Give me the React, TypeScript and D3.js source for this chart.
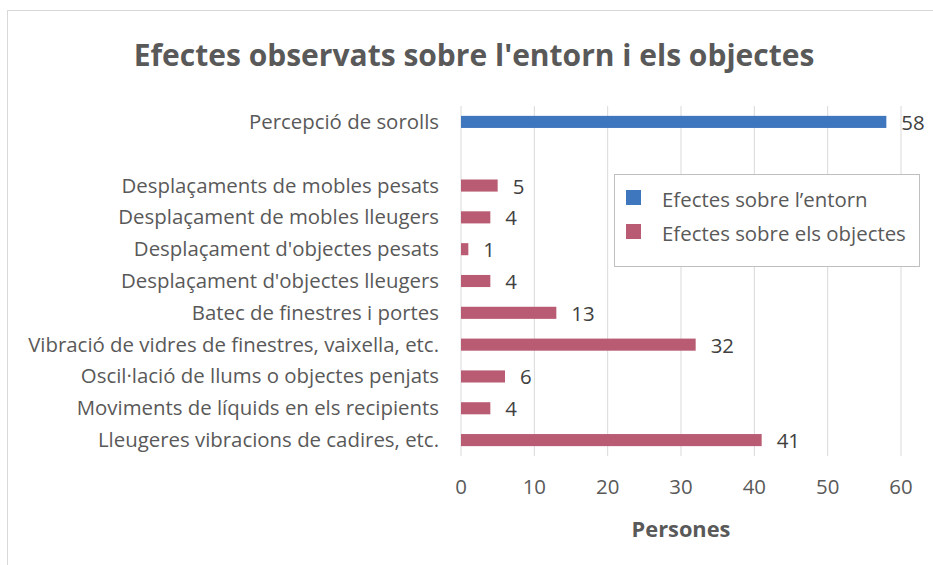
import React from "react";
import * as d3 from "d3";

const categories = [
  "Percepció de sorolls",
  "",
  "Desplaçaments de mobles pesats",
  "Desplaçament de mobles lleugers",
  "Desplaçament d'objectes pesats",
  "Desplaçament d'objectes lleugers",
  "Batec de finestres i portes",
  "Vibració de vidres de finestres, vaixella, etc.",
  "Oscil·lació de llums o objectes penjats",
  "Moviments de líquids en els recipients",
  "Lleugeres vibracions de cadires, etc.",
];
const seriesNames = ["Efectes sobre l’entorn", "Efectes sobre els objectes"];
const entornValues: (number | null)[] = [58, null, null, null, null, null, null, null, null, null, null];
const objectesValues: (number | null)[] = [null, null, 5, 4, 1, 4, 13, 32, 6, 4, 41];
const xTicks = [0, 10, 20, 30, 40, 50, 60];

const W = 933;
const H = 565;
const FONT = "'Open Sans', sans-serif";
const colors = ["#3F77BF", "#B95B72"];
const FS = 20.4;

export default function App() {
  const x = d3.scaleLinear().domain([0, 60]).range([461, 901]);
  const y = d3.scaleBand().domain(categories.map((c, i) => String(i))).range([106, 456]).paddingInner(0.62).paddingOuter(0.31);
  const bw = y.bandwidth();
  const series = [entornValues, objectesValues];
  return (
    <svg width={W} height={H} style={{ position: "absolute", left: 0, top: 0 }} fontFamily={FONT}>
      <rect x={0} y={0} width={W} height={H} fill="#fff" />
      <rect x={7.5} y={10.5} width={W} height={H} fill="none" stroke="#d9d9d9" />
      <text x={474} y={66} textAnchor="middle" fontSize={30} fontWeight="bold" fill="#595959">
        Efectes observats sobre l'entorn i els objectes
      </text>
      {xTicks.map((t) => (
        <g key={t}>
          <line x1={x(t)} x2={x(t)} y1={106} y2={456} stroke="#d9d9d9" strokeWidth={1} />
          <text x={x(t)} y={494} textAnchor="middle" fontSize={FS} fill="#595959">
            {t}
          </text>
        </g>
      ))}
      {categories.map((c, i) => (
        <text key={i} x={439} y={(y(String(i)) as number) + bw / 2 + 7} textAnchor="end" fontSize={FS} fill="#595959">
          {c}
        </text>
      ))}
      {series.map((vals, si) =>
        vals.map((v, i) =>
          v == null ? null : (
            <g key={si + "-" + i}>
              <rect x={x(0)} y={y(String(i)) as number} width={x(v) - x(0)} height={bw} fill={colors[si]} />
              <text x={x(v) + 15} y={(y(String(i)) as number) + bw / 2 + 8} fontSize={FS} fill="#404040">
                {v}
              </text>
            </g>
          )
        )
      )}
      <rect x={614.5} y={174.5} width={305} height={92} fill="#fff" stroke="#bfbfbf" />
      {seriesNames.map((s, i) => (
        <g key={s}>
          <rect x={626} y={190 + i * 34} width={15} height={15} fill={colors[i]} />
          <text x={662} y={207 + i * 34} fontSize={FS} fill="#595959">
            {s}
          </text>
        </g>
      ))}
      <text x={681} y={537} textAnchor="middle" fontSize={21.8} fontWeight="bold" fill="#595959">
        Persones
      </text>
    </svg>
  );
}
